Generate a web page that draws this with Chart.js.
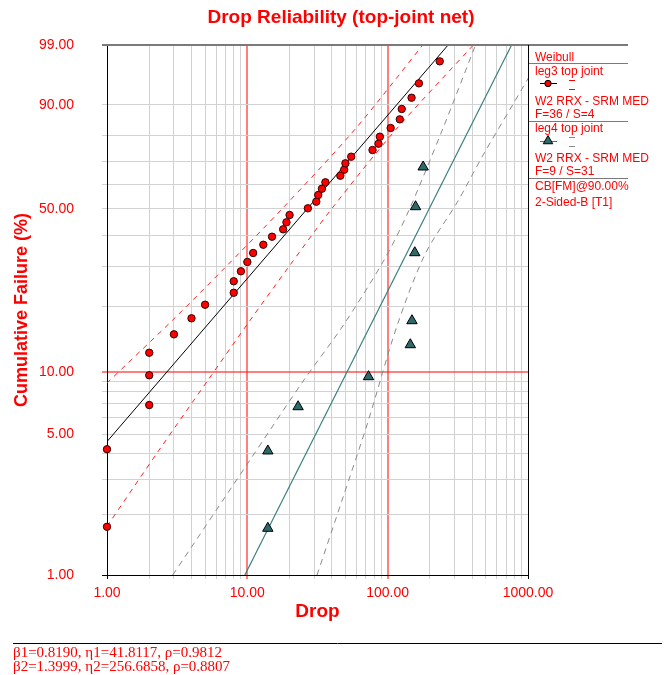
<!DOCTYPE html>
<html>
<head>
<meta charset="utf-8">
<script src="https://cdn.jsdelivr.net/npm/chart.js@4.4.0/dist/chart.umd.min.js"></script>
<style>
  html, body { margin: 0; padding: 0; background: #fff; }
</style>
</head>
<body>
<canvas id="grafico" width="667" height="675"></canvas>
<script>
var titulo = 'Drop Reliability (top-joint net)';
var tituloX = 'Drop';
var tituloY = 'Cumulative Failure (%)';

/* EJES */
var ticksX = [1, 2, 3, 4, 5, 6, 7, 8, 9, 10, 20, 30, 40, 50, 60, 70, 80, 90, 100, 200, 300, 400, 500, 600, 700, 800, 900, 1000];
var etiquetasX = [1, 10, 100, 1000];
var ticksY = [1, 2, 3, 4, 5, 6, 7, 8, 9, 10, 20, 30, 40, 50, 60, 70, 80, 90, 99];
var etiquetasY = [1, 5, 10, 50, 90, 99];

/* DATOS leg3 (circulos rojos) */
var leg3Drop = [1, 1, 2, 2, 2, 3, 4, 5, 8, 8, 9, 10, 11, 13, 15, 18, 19, 20, 27, 31, 32, 34, 36, 46, 49, 50, 55, 78, 86, 88, 105, 122, 126, 148, 167, 235];
var leg3Pct = [1.74, 4.21, 6.92, 9.62, 12.30, 14.99, 17.75, 20.44, 23.10, 25.91, 28.58, 31.26, 34.02, 36.72, 39.47, 42.12, 44.73, 47.54, 50.20, 52.88, 55.65, 58.29, 61.00, 63.80, 66.35, 69.05, 71.80, 74.53, 77.03, 79.71, 82.86, 85.77, 88.89, 91.82, 94.80, 97.79];
var leg3AjusteDrop = [1, 269.6];
var leg3AjustePct = [4.59, 99];
var leg3SupDrop = [1.0, 2.94, 6.67, 17.7, 57.9, 178];
var leg3SupPct = [8.83, 17.44, 28.94, 50.0, 82.15, 99];
var leg3InfDrop = [1.0, 2.35, 5.25, 10.5, 19.0, 39.9, 113.7, 408];
var leg3InfPct = [1.75, 4.17, 9.13, 17.44, 28.94, 50.0, 82.15, 99];

/* DATOS leg4 (triangulos) */
var leg4Drop = [14, 14, 23, 73, 145, 149, 156, 158, 179];
var leg4Pct = [1.71, 4.13, 6.79, 9.47, 13.41, 17.31, 34.11, 50.84, 67.50];
var leg4AjusteDrop = [9.6, 764];
var leg4AjustePct = [1, 99];
var leg4SupDrop = [2.94, 10.1, 25.3, 47.9, 94.3, 140, 245, 423];
var leg4SupPct = [1, 3.60, 9.13, 16.37, 31.85, 48.72, 82.15, 99];
var leg4InfDrop = [31.4, 47.9, 72.3, 116.5, 185, 314, 483, 747, 1380];
var leg4InfPct = [1, 2.42, 5.72, 16.37, 33.7, 52.75, 72.91, 88.89, 99];

var textoLeyenda = ['Weibull', 'leg3 top joint', 'W2 RRX - SRM MED', 'F=36 / S=4', 'leg4 top joint', 'W2 RRX - SRM MED', 'F=9 / S=31', 'CB[FM]@90.00%', '2-Sided-B [T1]'];
var textoPie = ['\u03b21=0.8190, \u03b71=41.8117, \u03c1=0.9812', '\u03b22=1.3999, \u03b72=256.6858, \u03c1=0.8807'];

var rojo = '#ff0000';
var rojoRef = 'rgba(255,40,40,0.6)';
var gris = '#d2d2d2';
var azulVerde = '#2f6a6a';

/* HELPERS */
function weibullY(pct) {
    return Math.log(-Math.log(1 - pct / 100));
}
function puntos(xs, ps) {
    return xs.map(function (x, i) { return {x: x, y: weibullY(ps[i])}; });
}
function linea(ctx, x1, y1, x2, y2) {
    ctx.beginPath();
    ctx.moveTo(x1, y1);
    ctx.lineTo(x2, y2);
    ctx.stroke();
}
function triangulo(ctx, x, y, r) {
    ctx.beginPath();
    ctx.moveTo(x, y - r);
    ctx.lineTo(x + r * 0.866, y + r / 2);
    ctx.lineTo(x - r * 0.866, y + r / 2);
    ctx.closePath();
    ctx.fill();
    ctx.stroke();
}

Chart.defaults.font.family = '"Liberation Sans", Arial, sans-serif';

/* marco, titulo, leyenda y pie */
var marco = {
    id: 'marco',
    afterDraw: function (chart) {
        var ctx = chart.ctx;
        var a = chart.chartArea;
        ctx.save();
        ctx.fillStyle = rojo;
        ctx.font = 'bold 19px "Liberation Sans", Arial, sans-serif';
        ctx.textAlign = 'center';
        ctx.textBaseline = 'middle';
        ctx.fillText(titulo, 341, 18);

        // borde superior y panel
        ctx.strokeStyle = '#7a7a7a';
        ctx.lineWidth = 2;
        linea(ctx, 102, a.top, 628, a.top);
        ctx.lineWidth = 1;
        [63, 121, 178].forEach(function (y) { linea(ctx, a.right, y + 0.5, 628, y + 0.5); });
        ctx.strokeStyle = '#000';
        linea(ctx, a.right + 0.5, a.top, a.right + 0.5, a.bottom + 3);

        // textos de la leyenda
        ctx.font = '12px "Liberation Sans", Arial, sans-serif';
        ctx.textAlign = 'left';
        ctx.textBaseline = 'alphabetic';
        var bases = [60.5, 74.5, 104.5, 117.5, 131.5, 161.5, 175, 189.5, 205.5];
        textoLeyenda.forEach(function (t, i) { ctx.fillText(t, 535, bases[i]); });

        // simbolos de la leyenda
        ctx.strokeStyle = '#000';
        linea(ctx, 540, 83.5, 557, 83.5);
        ctx.fillStyle = rojo;
        ctx.beginPath();
        ctx.arc(548, 83.5, 3.2, 0, Math.PI * 2);
        ctx.fill();
        ctx.stroke();
        ctx.strokeStyle = rojo;
        linea(ctx, 569, 80.5, 575, 80.5);
        linea(ctx, 569, 89.5, 575, 89.5);

        ctx.strokeStyle = '#3d7f80';
        linea(ctx, 540, 141.5, 557, 141.5);
        ctx.fillStyle = azulVerde;
        ctx.strokeStyle = '#000';
        triangulo(ctx, 548, 141, 5.5);
        ctx.strokeStyle = '#8a8a8a';
        linea(ctx, 569, 137.5, 575, 137.5);
        linea(ctx, 569, 146.5, 575, 146.5);

        // pie
        ctx.strokeStyle = '#000';
        linea(ctx, 13, 643.5, 662, 643.5);
        ctx.fillStyle = rojo;
        ctx.font = '15px "Liberation Serif", "Times New Roman", serif';
        ctx.fillText(textoPie[0], 13, 657);
        ctx.fillText(textoPie[1], 13, 671);
        ctx.restore();
    }
};

var ctx = document.getElementById('grafico').getContext('2d');
var grafico = new Chart(ctx, {
    type: 'scatter',
    data: {
        datasets: [
            {label: 'leg3 top joint', data: puntos(leg3Drop, leg3Pct), pointRadius: 3.7, pointBackgroundColor: rojo, pointBorderColor: '#300000', pointBorderWidth: 1, clip: false},
            {label: 'leg4 top joint', data: puntos(leg4Drop, leg4Pct), pointStyle: 'triangle', pointRadius: 6, pointBackgroundColor: azulVerde, pointBorderColor: '#000', pointBorderWidth: 1, clip: false},
            {label: 'ajuste leg3', data: puntos(leg3AjusteDrop, leg3AjustePct), showLine: true, borderColor: '#000', borderWidth: 1, pointRadius: 0},
            {label: 'ajuste leg4', data: puntos(leg4AjusteDrop, leg4AjustePct), showLine: true, borderColor: '#3d7f80', borderWidth: 1.2, pointRadius: 0},
            {label: 'cb sup leg3', data: puntos(leg3SupDrop, leg3SupPct), showLine: true, borderColor: '#ff2020', borderWidth: 1, borderDash: [5, 5], pointRadius: 0, tension: 0.3},
            {label: 'cb inf leg3', data: puntos(leg3InfDrop, leg3InfPct), showLine: true, borderColor: '#ff2020', borderWidth: 1, borderDash: [5, 5], pointRadius: 0, tension: 0.3},
            {label: 'cb sup leg4', data: puntos(leg4SupDrop, leg4SupPct), showLine: true, borderColor: '#8a8a8a', borderWidth: 1, borderDash: [6, 5], pointRadius: 0, tension: 0.3},
            {label: 'cb inf leg4', data: puntos(leg4InfDrop, leg4InfPct), showLine: true, borderColor: '#8a8a8a', borderWidth: 1, borderDash: [6, 5], pointRadius: 0, tension: 0.3}
        ]
    },
    options: {
        responsive: false,
        animation: false,
        layout: {padding: {left: 0, right: 139, top: 45, bottom: 50}},
        plugins: {legend: {display: false}, tooltip: {enabled: false}},
        scales: {
            x: {
                type: 'logarithmic',
                min: 1,
                max: 1000,
                afterBuildTicks: function (scale) {
                    scale.ticks = ticksX.map(function (v) { return {value: v}; });
                },
                afterFit: function (scale) { scale.height = 50; },
                ticks: {
                    autoSkip: false,
                    maxRotation: 0,
                    padding: 6,
                    color: rojo,
                    font: {size: 14},
                    callback: function (v, i) {
                        return etiquetasX.indexOf(ticksX[i]) >= 0 ? ticksX[i].toFixed(2) : '';
                    }
                },
                grid: {
                    tickLength: 4,
                    color: function (c) {
                        var v = c.tick && c.tick.value;
                        if (v === 10 || v === 100) return rojoRef;
                        if (v === 1000 || v === 1) return '#000';
                        return gris;
                    },
                    lineWidth: function (c) {
                        var v = c.tick && c.tick.value;
                        return (v === 10 || v === 100) ? 2 : 1;
                    }
                },
                border: {display: true, color: '#000', width: 1},
                title: {display: true, text: tituloX, color: rojo, font: {size: 19, weight: 'bold'}, padding: {top: 0, bottom: 2}}
            },
            y: {
                type: 'linear',
                min: weibullY(1),
                max: weibullY(99),
                afterBuildTicks: function (scale) {
                    scale.ticks = ticksY.map(function (p) { return {value: weibullY(p)}; });
                },
                afterFit: function (scale) { scale.width = 107; },
                ticks: {
                    padding: 28,
                    color: rojo,
                    font: {size: 14},
                    callback: function (v, i) {
                        return etiquetasY.indexOf(ticksY[i]) >= 0 ? ticksY[i].toFixed(2) : '';
                    }
                },
                grid: {
                    tickLength: 5,
                    color: function (c) {
                        var i = c.index;
                        if (ticksY[i] === 10) return rojoRef;
                        if (ticksY[i] === 99) return '#7a7a7a';
                        if (ticksY[i] === 1) return '#000';
                        return gris;
                    },
                    lineWidth: function (c) {
                        return ticksY[c.index] === 10 ? 2 : 1;
                    }
                },
                border: {display: true, color: '#000', width: 1},
                title: {display: true, text: tituloY, color: rojo, font: {size: 18, weight: 'bold'}, padding: {top: 11, bottom: 0}}
            }
        }
    },
    plugins: [marco]
});
</script>
</body>
</html>
